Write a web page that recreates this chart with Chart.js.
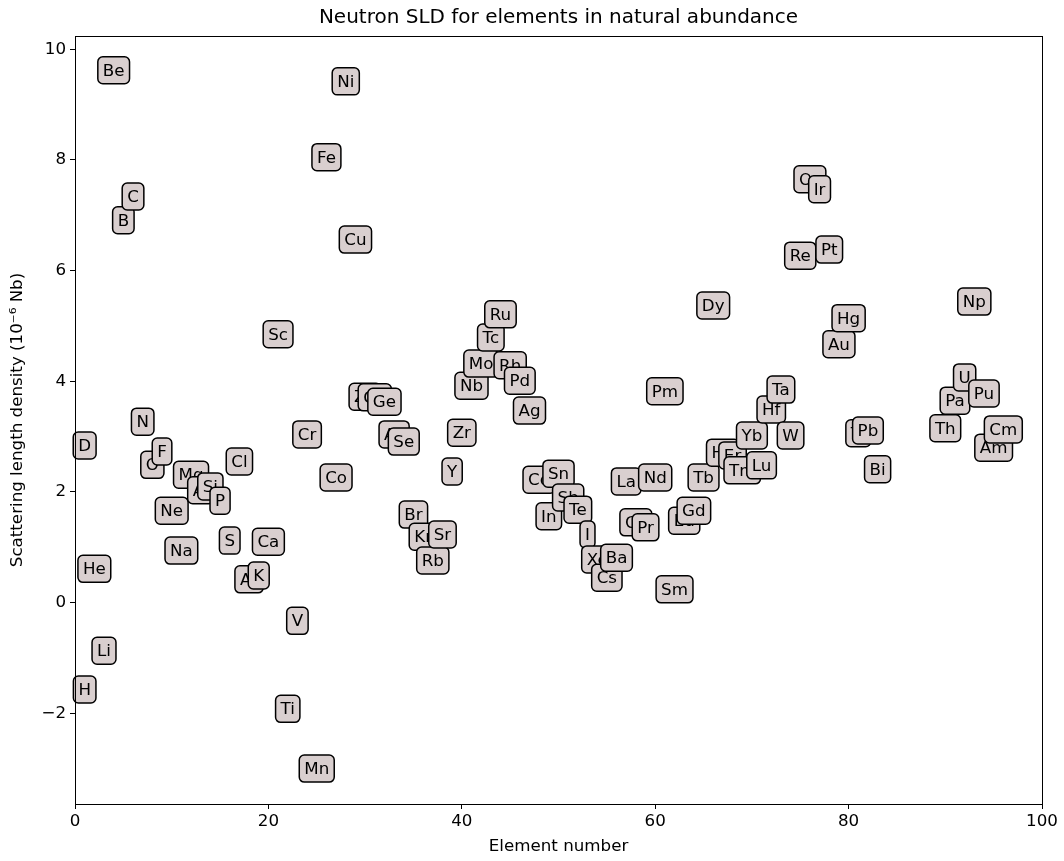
<!DOCTYPE html>
<html>
<head>
<meta charset="utf-8">
<script src="https://cdn.jsdelivr.net/npm/chart.js@4"></script>
<style>
  body { margin: 0; background: #fff; }
  #wrap { width: 1064px; height: 861px; }
</style>
</head>
<body>
<div id="wrap"><canvas id="sldChart" width="1064" height="861"></canvas></div>
<script>
// element symbols, atomic numbers and SLD values (10^-6 / A^2)
const symbols = ['H', 'D', 'He', 'Li', 'Be', 'B', 'C', 'N', 'O', 'F', 'Ne', 'Na', 'Mg', 'Al', 'Si', 'P', 'S', 'Cl', 'Ar', 'K', 'Ca',
    'Sc', 'Ti', 'V', 'Cr', 'Mn', 'Fe', 'Co', 'Ni', 'Cu', 'Zn', 'Ga', 'Ge', 'As', 'Se', 'Br', 'Kr', 'Rb', 'Sr', 'Y', 'Zr',
    'Nb', 'Mo', 'Tc', 'Ru', 'Rh', 'Pd', 'Ag', 'Cd', 'In', 'Sn', 'Sb', 'Te', 'I', 'Xe', 'Cs', 'Ba', 'La', 'Ce', 'Pr', 'Nd',
    'Pm', 'Sm', 'Eu', 'Gd', 'Tb', 'Dy', 'Ho', 'Er', 'Tm', 'Yb', 'Lu', 'Hf', 'Ta', 'W', 'Re', 'Os', 'Ir', 'Pt', 'Au', 'Hg',
    'Tl', 'Pb', 'Bi', 'Th', 'Pa', 'U', 'Np', 'Pu', 'Am', 'Cm']
const atomicNumbers = [1, 1, 2, 3, 4, 5, 6, 7, 8, 9, 10, 11, 12, 13, 14, 15, 16, 17, 18, 19, 20,
    21, 22, 23, 24, 25, 26, 27, 28, 29, 30, 31, 32, 33, 34, 35, 36, 37, 38, 39, 40,
    41, 42, 43, 44, 45, 46, 47, 48, 49, 50, 51, 52, 53, 54, 55, 56, 57, 58, 59, 60,
    61, 62, 63, 64, 65, 66, 67, 68, 69, 70, 71, 72, 73, 74, 75, 76, 77, 78, 79, 80,
    81, 82, 83, 90, 91, 92, 93, 94, 95, 96]
const sld = [-1.57, 2.84, 0.61, -0.87, 9.62, 6.91, 7.34, 3.27, 2.49, 2.73, 1.66, 0.94, 2.31, 2.03, 2.10, 1.84, 1.12, 2.55, 0.42, 0.49, 1.10,
    4.85, -1.92, -0.33, 3.04, -3.00, 8.05, 2.26, 9.42, 6.56, 3.72, 3.71, 3.63, 3.04, 2.91, 1.59, 1.19, 0.76, 1.23, 2.37, 3.07,
    3.92, 4.32, 4.79, 5.21, 4.29, 4.01, 3.47, 2.22, 1.56, 2.33, 1.90, 1.68, 1.23, 0.78, 0.45, 0.81, 2.19, 1.45, 1.36, 2.26,
    3.82, 0.24, 1.48, 1.66, 2.26, 5.37, 2.71, 2.66, 2.39, 3.02, 2.48, 3.49, 3.85, 3.02, 6.27, 7.65, 7.47, 6.38, 4.67, 5.14,
    3.06, 3.11, 2.41, 3.15, 3.65, 4.07, 5.44, 3.78, 2.80, 3.13]

const xTicks = [0, 20, 40, 60, 80, 100]
const yTicks = [-2, 0, 2, 4, 6, 8, 10]

const FONT = 'DejaVu Sans'
const FS = 16.7

// draw each element symbol in a rounded box at its data point
const labelBoxes = {
    id: 'labelBoxes',
    afterDatasetsDraw(chart) {
        const ctx = chart.ctx
        const meta = chart.getDatasetMeta(0)
        ctx.save()
        ctx.font = FS + 'px "' + FONT + '"'
        ctx.textAlign = 'center'
        ctx.textBaseline = 'middle'
        ctx.lineWidth = 1.5
        meta.data.forEach(function (pt, i) {
            const txt = symbols[i]
            const w = ctx.measureText(txt).width + 10
            const h = 27
            ctx.beginPath()
            ctx.roundRect(pt.x - w / 2, pt.y - h / 2, w, h, 5)
            ctx.fillStyle = '#d9cfcf'
            ctx.fill()
            ctx.strokeStyle = '#000'
            ctx.stroke()
            ctx.fillStyle = '#000'
            ctx.fillText(txt, pt.x, pt.y + 1)
        })
        ctx.restore()
    }
}

// full box around the axes like matplotlib spines, plus the centred title
const frame = {
    id: 'frame',
    afterDraw(chart) {
        const a = chart.chartArea
        const ctx = chart.ctx
        ctx.save()
        ctx.strokeStyle = '#000'
        ctx.lineWidth = 1
        ctx.strokeRect(a.left + 0.5, a.top + 0.5, a.right - a.left, a.bottom - a.top)
        ctx.fillStyle = '#000'
        ctx.font = '20px "' + FONT + '"'
        ctx.textAlign = 'center'
        ctx.textBaseline = 'middle'
        ctx.fillText('Neutron SLD for elements in natural abundance', (a.left + a.right) / 2, 18)
        ctx.restore()
    }
}

const points = atomicNumbers.map((z, i) => ({ x: z, y: sld[i] }))

new Chart(document.getElementById('sldChart'), {
    type: 'scatter',
    data: {
        datasets: [{
            data: points,
            pointRadius: 0,
            pointHoverRadius: 0
        }]
    },
    plugins: [labelBoxes, frame],
    options: {
        responsive: false,
        animation: false,
        events: [],
        layout: { padding: { top: 36, right: 22, bottom: 0, left: 0 } },
        plugins: {
            legend: { display: false },
            tooltip: { enabled: false },
            title: { display: false }
        },
        scales: {
            x: {
                type: 'linear',
                min: 0,
                max: 100,
                afterBuildTicks: s => { s.ticks = xTicks.map(v => ({ value: v })) },
                afterFit: s => { s.height = 57 },
                grid: { drawOnChartArea: false, tickLength: 5, color: '#000' },
                border: { color: '#000' },
                ticks: { color: '#000', font: { family: FONT, size: FS }, padding: 3, maxRotation: 0 },
                title: {
                    display: true,
                    text: 'Element number',
                    color: '#000',
                    font: { family: FONT, size: FS },
                    padding: { top: 4, bottom: 4 }
                }
            },
            y: {
                type: 'linear',
                min: -3.64,
                max: 10.24,
                afterBuildTicks: s => { s.ticks = yTicks.map(v => ({ value: v })) },
                afterFit: s => { s.width = 75 },
                grid: { drawOnChartArea: false, tickLength: 5, color: '#000' },
                border: { color: '#000' },
                ticks: {
                    color: '#000',
                    font: { family: FONT, size: FS },
                    padding: 4,
                    callback: v => String(v).replace('-', '\u2212')
                },
                title: {
                    display: true,
                    text: 'Scattering length density (10\u207B\u2076 Nb)',
                    color: '#000',
                    font: { family: FONT, size: FS },
                    padding: { top: 8, bottom: 4 }
                }
            }
        }
    }
})
</script>
</body>
</html>
